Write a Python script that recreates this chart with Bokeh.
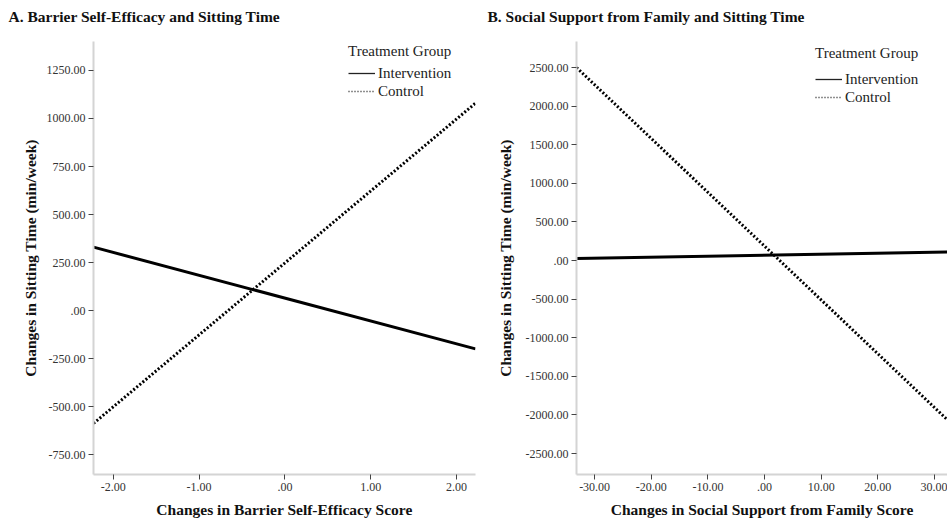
from bokeh.plotting import figure
from bokeh.layouts import row
from bokeh.models import FixedTicker, Legend, LegendItem, Range1d, Title
from bokeh.embed import file_html
from bokeh.resources import INLINE

# ---------------- Panel A data ----------------
a_title = "A. Barrier Self-Efficacy and Sitting Time"
a_xlabel = "Changes in Barrier Self-Efficacy Score"
a_x = [-2.23, 2.22]
a_intervention = [330, -200]
a_control = [-588, 1080]
a_xticks = [-2, -1, 0, 1, 2]
a_xticklabels = ["-2.00", "-1.00", ".00", "1.00", "2.00"]
a_yticks = [-750, -500, -250, 0, 250, 500, 750, 1000, 1250]
a_yticklabels = ["-750.00", "-500.00", "-250.00", ".00", "250.00", "500.00",
                 "750.00", "1000.00", "1250.00"]

# ---------------- Panel B data ----------------
b_title = "B. Social Support from Family and Sitting Time"
b_xlabel = "Changes in Social Support from Family Score"
b_x = [-33.2, 32.3]
b_intervention = [25, 110]
b_control = [2500, -2065]
b_xticks = [-30, -20, -10, 0, 10, 20, 30]
b_xticklabels = ["-30.00", "-20.00", "-10.00", ".00", "10.00", "20.00", "30.00"]
b_yticks = [-2500, -2000, -1500, -1000, -500, 0, 500, 1000, 1500, 2000, 2500]
b_yticklabels = ["-2500.00", "-2000.00", "-1500.00", "-1000.00", "-500.00", ".00",
                 "500.00", "1000.00", "1500.00", "2000.00", "2500.00"]

ylabel = "Changes in Sitting Time (min/week)"
legend_title = "Treatment Group"
group_names = ["Intervention", "Control"]

FONT = "Liberation Serif"
NAN = float("nan")


def make_panel(title, xlabel, xs, inter, ctrl, xt, xtl, yt, ytl,
               xr, yr, width, min_left, min_right, title_offset, leg_loc,
               leg_title_standoff, ylab_standoff):
    p = figure(width=width, height=520, x_range=Range1d(*xr), y_range=Range1d(*yr),
               output_backend="svg", toolbar_location=None,
               min_border_left=min_left, min_border_right=min_right,
               min_border_top=41, min_border_bottom=46)
    # small spacer between title and plot frame
    p.add_layout(Title(text=" ", text_font_size="1px", standoff=12), "above")
    p.title.text = title
    p.title.text_font = FONT
    p.title.text_font_size = "15.5px"
    p.title.text_font_style = "bold"
    p.title.text_color = "#111111"
    p.title.align = "left"
    p.title.vertical_align = "bottom"
    p.title.offset = title_offset
    p.title.standoff = 4

    p.line(xs, inter, line_color="black", line_width=3)
    p.line(xs, ctrl, line_color="black", line_width=3, line_dash="2 2")

    # legend samples (thin lines like the original key)
    r_int = p.line([NAN], [NAN], line_color="#222222", line_width=1.3)
    r_ctl = p.line([NAN], [NAN], line_color="#222222", line_width=1.5, line_dash="1 2")
    leg = Legend(items=[LegendItem(label=group_names[0], renderers=[r_int]),
                        LegendItem(label=group_names[1], renderers=[r_ctl])],
                 title=legend_title, location=leg_loc,
                 border_line_color=None, background_fill_alpha=0,
                 label_text_font=FONT, label_text_font_size="15px",
                 label_text_color="#222222",
                 title_text_font=FONT, title_text_font_size="15px",
                 title_text_font_style="normal", title_text_color="#222222",
                 glyph_width=27, glyph_height=18, label_height=18,
                 spacing=0, padding=0, margin=0, label_standoff=3,
                 title_standoff=leg_title_standoff)
    p.add_layout(leg)

    p.xaxis.axis_label = xlabel
    p.yaxis.axis_label = ylabel
    p.xaxis.ticker = FixedTicker(ticks=xt)
    p.yaxis.ticker = FixedTicker(ticks=yt)
    p.xaxis.major_label_overrides = dict(zip(xt, xtl))
    p.yaxis.major_label_overrides = dict(zip(yt, ytl))
    for ax in (p.xaxis, p.yaxis):
        ax.axis_line_color = "#d4d4d4"
        ax.axis_line_width = 2
        ax.major_tick_line_color = "#444444"
        ax.major_tick_line_width = 1
        ax.major_tick_out = 5
        ax.major_tick_in = 0
        ax.minor_tick_line_color = None
        ax.major_label_text_font = FONT
        ax.major_label_text_font_size = "12px"
        ax.major_label_text_color = "#333333"
        ax.axis_label_text_font = FONT
        ax.axis_label_text_font_size = "15.5px"
        ax.axis_label_text_font_style = "bold"
        ax.axis_label_text_color = "#111111"
        ax.major_label_standoff = 3
    p.xaxis.axis_label_standoff = 7
    p.yaxis.axis_label_standoff = ylab_standoff
    p.grid.visible = False
    p.outline_line_color = None
    p.background_fill_color = "white"
    p.border_fill_color = "white"
    return p


pa = make_panel(a_title, a_xlabel, a_x, a_intervention, a_control,
                a_xticks, a_xticklabels, a_yticks, a_yticklabels,
                (-2.23, 2.22), (-854, 1401), 487, 93, 12, -85, (255, 374), 4, 5)
pb = make_panel(b_title, b_xlabel, b_x, b_intervention, b_control,
                b_xticks, b_xticklabels, b_yticks, b_yticklabels,
                (-33.2, 32.3), (-2772, 2837), 460, 89, 0, -89, (239, 368), 8, 9)

layout = row(pa, pb)
open("out.html", "w").write(file_html(layout, INLINE))
